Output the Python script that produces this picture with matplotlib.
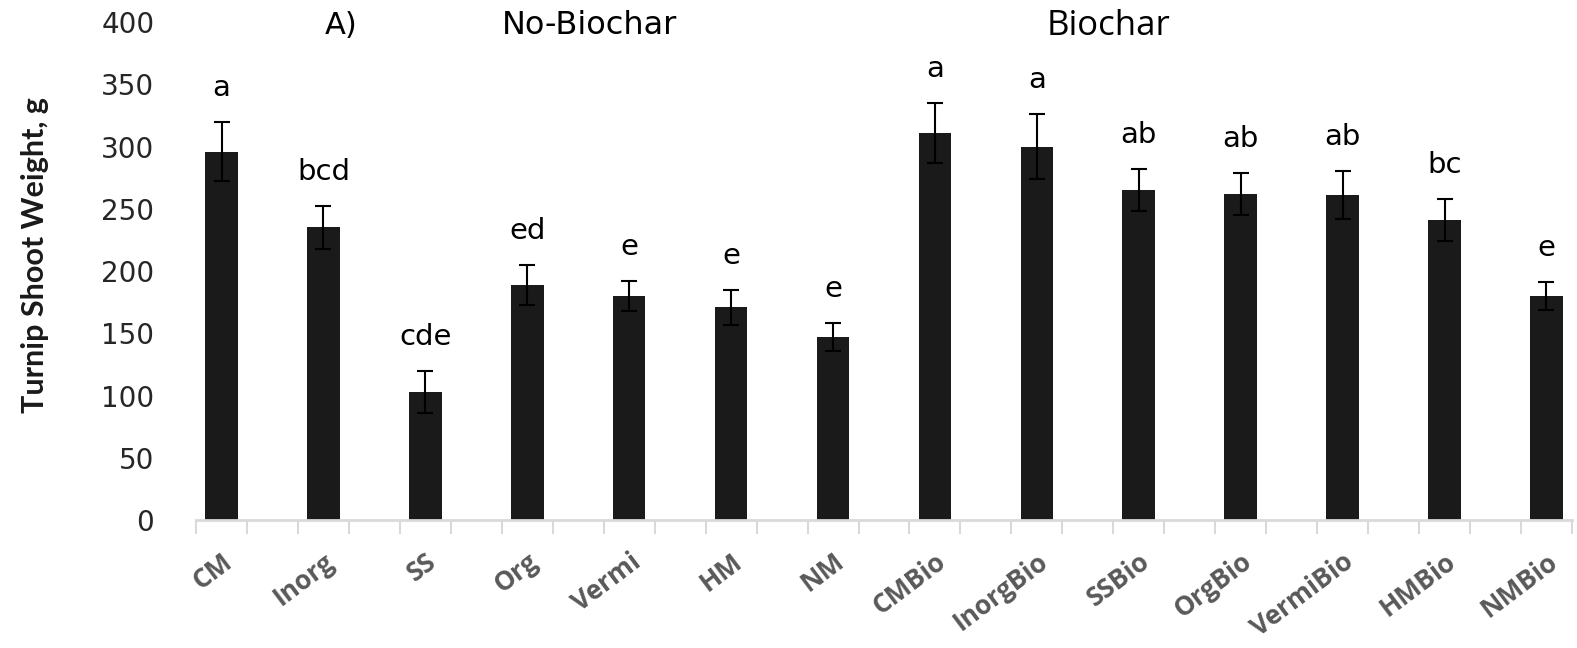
import numpy as np
import matplotlib
matplotlib.use('Agg')
import matplotlib.pyplot as plt


# treatments, means and standard errors of turnip shoot weight
treatments = ['CM', 'Inorg', 'SS', 'Org', 'Vermi', 'HM', 'NM',
              'CMBio', 'InorgBio', 'SSBio', 'OrgBio', 'VermiBio', 'HMBio', 'NMBio']
weight = [296, 235, 103, 189, 180, 171, 147,
          311, 300, 265, 262, 261, 241, 180]
error = [24, 17, 17, 16, 12, 14, 11,
         24, 26, 17, 17, 19, 17, 11]
letters = ['a', 'bcd', 'cde', 'ed', 'e', 'e', 'e',
           'a', 'a', 'ab', 'ab', 'ab', 'bc', 'e']


def main():
    fig = plt.figure(figsize=(15.77, 6.48), dpi=100)
    ax = fig.add_axes([0.1243, 0.1975, 0.8725, 0.7685])

    X = np.arange(len(treatments))
    ax.bar(X, weight, width=0.32, color='#1a1a1a', zorder=2)
    ax.errorbar(X, weight, yerr=error, fmt='none', ecolor='black',
                elinewidth=1.5, capsize=6, capthick=1.5, zorder=3)

    # significance letters above the error bars
    for x, w, e, t in zip(X, weight, error, letters):
        ax.annotate(t, (x, w + e), xytext=(0, 34), textcoords='offset pixels',
                    ha='center', va='center', fontsize=21,
                    family='DejaVu Sans', color='black')

    ax.set_xlim(-0.25, len(treatments) - 0.75)
    ax.set_ylim(0, 400)
    ax.set_yticks(range(0, 401, 50))
    ax.tick_params(axis='y', length=0, pad=30, labelsize=20, labelcolor='#262626')
    for lab in ax.get_yticklabels():
        lab.set_family('DejaVu Sans')

    # category ticks every half step, labels on the bars
    ax.set_xticks(np.arange(-0.25, len(treatments) - 0.5, 0.5))
    ax.set_xticklabels([])
    ax.tick_params(axis='x', which='major', length=10, width=1.5,
                   color='#d9d9d9', direction='out')
    ax.set_xticks(X, minor=True)
    ax.set_xticklabels(treatments, minor=True, rotation=37, ha='right',
                       va='top', rotation_mode='anchor', fontsize=19,
                       fontweight='bold', color='#595959', family='Open Sans')
    ax.tick_params(axis='x', which='minor', length=0, pad=20)

    for s in ['top', 'right', 'left']:
        ax.spines[s].set_visible(False)
    ax.spines['bottom'].set_color('#d9d9d9')
    ax.spines['bottom'].set_linewidth(2)

    fig.text(35 / 1577, 1 - 255 / 648, 'Turnip Shoot Weight, g', rotation=90,
             ha='center', va='center', fontsize=22, fontweight='bold',
             family='Lato', color='#1a1a1a')
    fig.text(341 / 1577, 1 - 25 / 648, 'A)', ha='center', va='center',
             fontsize=22, family='DejaVu Sans')
    fig.text(590 / 1577, 1 - 25 / 648, 'No-Biochar', ha='center', va='center',
             fontsize=23, family='DejaVu Sans')
    fig.text(1108 / 1577, 1 - 26 / 648, 'Biochar', ha='center', va='center',
             fontsize=25, family='Open Sans')

    fig.savefig('out.png', dpi=100)


if __name__ == '__main__':
    main()
